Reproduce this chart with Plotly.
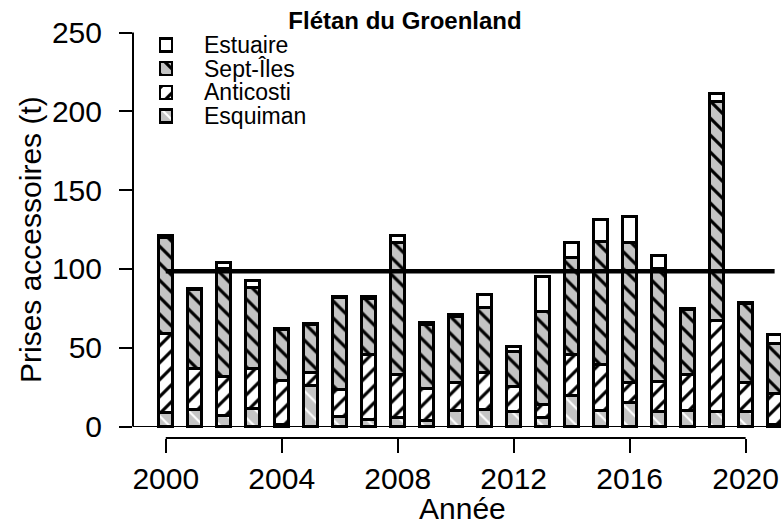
import plotly.graph_objects as go

# Annual bycatch of Greenland halibut (t) by fishing area
years = list(range(2000, 2022))
esquiman = [9, 10.5, 7, 11.5, 1.5, 26, 6.5, 4.5, 5.5, 4, 10, 10.5, 9.5, 6, 19.5, 10, 15, 9.5, 10, 9.5, 9.5, 1]
anticosti = [50, 26, 25, 25, 28, 8.5, 17, 41.5, 27.5, 20, 18, 23.5, 16, 8, 26, 29.5, 13, 19, 23, 58, 18.5, 20]
sept_iles = [61, 50.5, 68, 52, 32, 30, 58.5, 35, 83.5, 40.5, 42, 41.5, 22, 59, 62, 78, 88.5, 72, 41, 139, 50, 31.5]
estuaire = [1.5, 0.5, 4, 4, 0.5, 1, 0.5, 1.5, 5, 1.5, 1, 8, 3, 22, 9, 14, 16.5, 8, 1, 5, 0.5, 6]
reference_level = 98.5
reference_years = [2000, 2021]

y_ticks = [0, 50, 100, 150, 200, 250]
x_ticks = [2000, 2004, 2008, 2012, 2016, 2020]

GREY = "#c4c4c4"
FONT = "Liberation Sans, Arial, sans-serif"
AXIS_FONT = 30

# fill style of each area, bottom of the stack first
series = [
    ("Esquiman", esquiman, dict(shape="\\", bgcolor=GREY, fgcolor="white", solidity=0.18)),
    ("Anticosti", anticosti, dict(shape="/", bgcolor="white", fgcolor="black", solidity=0.26)),
    ("Sept-Îles", sept_iles, dict(shape="\\", bgcolor=GREY, fgcolor="black", solidity=0.26)),
    ("Estuaire", estuaire, dict(shape="", bgcolor="white", fgcolor="white", solidity=0)),
]


def make_marker(pat, lw):
    marker = dict(color=pat["bgcolor"], line=dict(color="black", width=lw))
    if pat["shape"]:
        marker["pattern"] = dict(shape=pat["shape"], bgcolor=pat["bgcolor"], fgcolor=pat["fgcolor"],
                                 size=12, solidity=pat["solidity"], fillmode="replace")
    return marker


W, H = 781, 527
L, R, T, B = 133, 0, 16, 89
pw, ph = W - L - R, H - T - B

fig = go.Figure()
for name, vals, pat in series:
    fig.add_trace(go.Bar(
        x=years, y=vals, width=0.47, name=name, showlegend=False,
        marker=make_marker(pat, 3),
    ))

fig.add_trace(go.Scatter(
    x=reference_years, y=[reference_level] * 2, mode="lines",
    line=dict(color="black", width=4.5), showlegend=False, hoverinfo="skip",
))

# Legend keys: small horizontal bars on their own axes, top entry = top of stack
legend_order = list(reversed(series))
for k, (name, vals, pat) in enumerate(legend_order, start=1):
    fig.add_trace(go.Bar(
        x=[1], y=[k], orientation="h", width=0.55, xaxis="x2", yaxis="y2",
        showlegend=False, hoverinfo="skip", marker=make_marker(pat, 2.5),
    ))
    fig.add_annotation(text=name, xref="paper", yref="y2", x=(202 - L) / pw, y=k,
                       xanchor="left", yanchor="middle", showarrow=False,
                       font=dict(size=23, family=FONT))

fig.update_layout(
    width=W, height=H,
    margin=dict(l=L, r=R, t=T, b=B),
    barmode="stack",
    paper_bgcolor="white", plot_bgcolor="white",
    font=dict(family=FONT, color="black"),
    showlegend=False,
    title=dict(
        text="<b>Flétan du Groenland</b>", xref="container", yref="container",
        x=405 / W, xanchor="center", y=1 - 21 / H, yanchor="middle",
        font=dict(size=24, family=FONT),
    ),
    xaxis=dict(
        range=[1998.87, 2021.22], tickvals=x_ticks, ticks="outside", ticklen=14,
        tickwidth=2, tickcolor="black", showline=False, showgrid=False, zeroline=False,
        tickfont=dict(size=AXIS_FONT, family=FONT), ticklabelstandoff=0,
    ),
    yaxis=dict(
        range=[-7.3, 260.5], tickvals=y_ticks, ticks="outside", ticklen=13,
        tickwidth=2, tickcolor="black", showline=False, showgrid=False,
        zeroline=True, zerolinecolor="black", zerolinewidth=1,
        tickfont=dict(size=AXIS_FONT, family=FONT), ticklabelstandoff=11,
    ),
    xaxis2=dict(domain=[(150 - L) / pw, (182 - L) / pw], range=[-10 / 12, 22 / 12],
                anchor="y2", visible=False, fixedrange=True),
    yaxis2=dict(domain=[(438 - 130) / ph, (438 - 30) / ph], range=[4.59, 0.366],
                anchor="x2", visible=False, fixedrange=True),
)

# R-style axis lines spanning only the labelled range
fig.add_shape(type="line", xref="paper", yref="y", x0=0, x1=0, y0=0, y1=250,
              line=dict(color="black", width=2))
fig.add_shape(type="line", xref="x", yref="paper", x0=x_ticks[0], x1=x_ticks[-1], y0=0, y1=0,
              line=dict(color="black", width=2))

fig.add_annotation(text="Année", xref="paper", yref="paper",
                   x=(462 - L) / pw, y=-(508 - 438) / ph, xanchor="center", yanchor="middle",
                   showarrow=False, font=dict(size=AXIS_FONT, family=FONT))
fig.add_annotation(text="Prises accessoires (t)", xref="paper", yref="paper",
                   x=-(L - 31) / pw, y=(438 - 240) / ph, xanchor="center", yanchor="middle",
                   textangle=-90, showarrow=False, font=dict(size=AXIS_FONT, family=FONT))

fig.write_html("out.html")
